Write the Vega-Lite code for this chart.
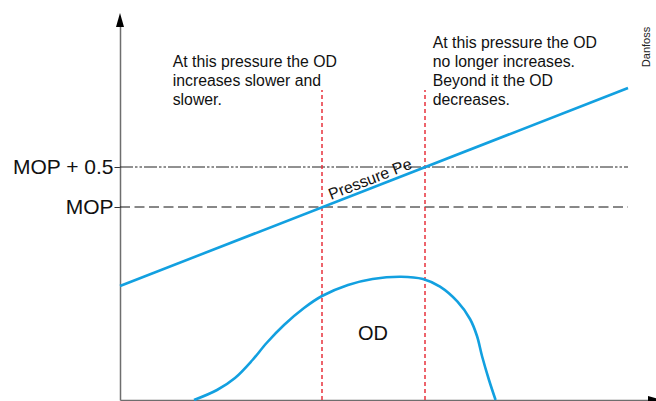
{
  "$schema": "https://vega.github.io/schema/vega-lite/v6.json",
  "width": 536,
  "height": 380,
  "autosize": {"type": "none"},
  "padding": {"left": 120, "top": 20, "right": 0, "bottom": 1},
  "background": "white",
  "config": {"view": {"stroke": null}, "font": "Liberation Sans"},
  "datasets": {
    "pressure": [{"x": 0, "y": 114}, {"x": 508, "y": 312}],
    "levels": [
      {"level": "MOP", "x": 0, "x2": 508, "y": 193},
      {"level": "MOP + 0.5", "x": 0, "x2": 508, "y": 233}
    ],
    "markers": [
      {"x": 202, "y": 0, "y2": 310},
      {"x": 305, "y": 0, "y2": 310}
    ],
    "od": [
      {"x": 74, "y": 0}, {"x": 97, "y": 10}, {"x": 115, "y": 22}, {"x": 132.5, "y": 40},
      {"x": 146.6, "y": 57}, {"x": 164, "y": 75}, {"x": 184, "y": 92}, {"x": 202, "y": 104},
      {"x": 228, "y": 115}, {"x": 252.6, "y": 121}, {"x": 281, "y": 123.3}, {"x": 303, "y": 121},
      {"x": 320, "y": 113.3}, {"x": 337.5, "y": 98.3}, {"x": 350, "y": 81}, {"x": 357, "y": 64},
      {"x": 362, "y": 44}, {"x": 369, "y": 20}, {"x": 375.6, "y": 0}
    ],
    "notes": [
      {"text": "At this pressure the OD\nincreases slower and\nslower.", "x": 52.7, "y": 333},
      {"text": "At this pressure the OD\nno longer increases.\nBeyond it the OD\ndecreases.", "x": 312.7, "y": 352}
    ]
  },
  "layer": [
    {
      "data": {"name": "levels"},
      "transform": [{"filter": "datum.level == 'MOP'"}],
      "mark": {"type": "rule", "color": "#111111", "strokeWidth": 1, "strokeDash": [10, 4.5]},
      "encoding": {
        "x": {"field": "x", "type": "quantitative", "scale": {"domain": [0, 536], "nice": false, "zero": false},
              "axis": {"title": null, "ticks": false, "labels": false, "grid": false, "domainColor": "#6e6e6e", "domainWidth": 1.5}},
        "x2": {"field": "x2"},
        "y": {"field": "y", "type": "quantitative", "scale": {"domain": [0, 380], "nice": false, "zero": false},
              "axis": {"title": null, "grid": false, "values": [193, 233],
                       "labelExpr": "datum.value == 233 ? 'MOP + 0.5' : 'MOP'",
                       "labelFont": "Liberation Sans", "labelFontSize": 21, "labelColor": "#111111",
                       "labelPadding": 1, "tickSize": 6, "tickColor": "#333333", "tickWidth": 1,
                       "domainColor": "#6e6e6e", "domainWidth": 1.5}}
      }
    },
    {
      "data": {"name": "levels"},
      "transform": [{"filter": "datum.level == 'MOP + 0.5'"}],
      "mark": {"type": "rule", "color": "#222222", "strokeWidth": 1, "strokeDash": [13, 2, 2.5, 2, 2.5, 2]},
      "encoding": {
        "x": {"field": "x", "type": "quantitative"},
        "x2": {"field": "x2"},
        "y": {"field": "y", "type": "quantitative"}
      }
    },
    {
      "data": {"name": "markers"},
      "mark": {"type": "rule", "color": "#e8323c", "strokeWidth": 1.5, "strokeDash": [4, 3]},
      "encoding": {
        "x": {"field": "x", "type": "quantitative"},
        "y": {"field": "y", "type": "quantitative"},
        "y2": {"field": "y2"}
      }
    },
    {
      "data": {"name": "pressure"},
      "mark": {"type": "line", "color": "#12a0e0", "strokeWidth": 2.6},
      "encoding": {
        "x": {"field": "x", "type": "quantitative"},
        "y": {"field": "y", "type": "quantitative"}
      }
    },
    {
      "data": {"name": "od"},
      "mark": {"type": "line", "color": "#12a0e0", "strokeWidth": 2.6, "interpolate": "catmull-rom"},
      "encoding": {
        "x": {"field": "x", "type": "quantitative"},
        "y": {"field": "y", "type": "quantitative"}
      }
    },
    {
      "data": {"values": [{"label": "y-arrow", "x": 0, "y": 377}]},
      "mark": {"type": "point", "filled": true, "color": "black", "opacity": 1, "size": 400,
               "shape": "M 0 -1 L 0.4 0.4 L -0.4 0.4 Z", "clip": false},
      "encoding": {
        "x": {"field": "x", "type": "quantitative"},
        "y": {"field": "y", "type": "quantitative"}
      }
    },
    {
      "data": {"values": [{"label": "x-arrow", "x": 532, "y": 0}]},
      "mark": {"type": "point", "filled": true, "color": "black", "opacity": 1, "size": 400,
               "shape": "M 1 0 L -0.4 -0.4 L -0.4 0.4 Z", "clip": false},
      "encoding": {
        "x": {"field": "x", "type": "quantitative"},
        "y": {"field": "y", "type": "quantitative"}
      }
    },
    {
      "data": {"name": "notes"},
      "mark": {"type": "text", "align": "left", "baseline": "alphabetic", "fontSize": 15.8,
               "lineHeight": 19, "lineBreak": "\n", "color": "#111111", "font": "Liberation Sans"},
      "encoding": {
        "x": {"field": "x", "type": "quantitative"},
        "y": {"field": "y", "type": "quantitative"},
        "text": {"field": "text"}
      }
    },
    {
      "data": {"values": [{"text": "OD", "x": 253, "y": 60}]},
      "mark": {"type": "text", "align": "center", "baseline": "alphabetic", "fontSize": 20, "color": "#111111"},
      "encoding": {
        "x": {"field": "x", "type": "quantitative"},
        "y": {"field": "y", "type": "quantitative"},
        "text": {"field": "text"}
      }
    },
    {
      "data": {"values": [{"text": "Pressure Pe", "x": 252, "y": 216}]},
      "mark": {"type": "text", "align": "center", "baseline": "alphabetic", "fontSize": 16, "angle": 338.7, "color": "#111111"},
      "encoding": {
        "x": {"field": "x", "type": "quantitative"},
        "y": {"field": "y", "type": "quantitative"},
        "text": {"field": "text"}
      }
    },
    {
      "data": {"values": [{"text": "Danfoss", "x": 527, "y": 353}]},
      "mark": {"type": "text", "align": "center", "baseline": "middle", "fontSize": 11, "angle": 270, "color": "#222222"},
      "encoding": {
        "x": {"field": "x", "type": "quantitative"},
        "y": {"field": "y", "type": "quantitative"},
        "text": {"field": "text"}
      }
    }
  ]
}
